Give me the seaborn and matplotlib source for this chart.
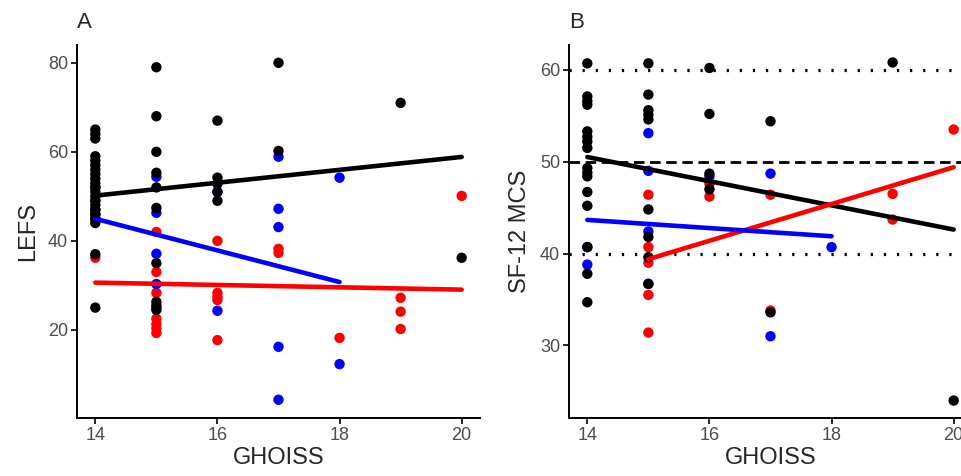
import pandas as pd
import matplotlib
matplotlib.use("Agg")
import matplotlib.pyplot as plt
import seaborn as sns

# Panel A: LEFS vs GHOISS
lefs_black_x = [14, 14, 14, 14, 14, 14, 14, 14, 14, 14, 14, 14, 14, 14, 14, 14, 14, 14, 14, 14, 14, 14, 14, 14,
                15, 15, 15, 15, 15, 15, 15, 15, 15, 15,
                16, 16, 16, 16, 16,
                17, 17,
                19,
                20]
lefs_black_y = [65, 64, 63, 59, 58, 57, 56, 55, 54, 53, 52, 51, 50, 49, 48, 47, 47, 46, 46, 45, 45, 44, 37, 25,
                79, 68, 60, 55.3, 52, 47.4, 35, 26.3, 25.5, 24.5,
                67, 54.2, 52.8, 51, 49,
                80, 60.2,
                71,
                36.2]
lefs_red_x = [14, 14,
              15, 15, 15, 15, 15, 15, 15,
              16, 16, 16, 16, 16,
              17, 17,
              18,
              19, 19, 19,
              20]
lefs_red_y = [52, 36.2,
              42, 33, 28.3, 22.5, 21.3, 20.3, 19.3,
              40, 28.3, 27.4, 26.7, 17.7,
              38.2, 37.3,
              18.2,
              27.2, 24.1, 20.2,
              50.1]
lefs_blue_x = [14, 14,
               15, 15, 15, 15, 15,
               16, 16,
               17, 17, 17, 17, 17,
               18, 18]
lefs_blue_y = [52, 49,
               54.4, 46.3, 37.1, 30.3, 25,
               51, 24.3,
               58.9, 47.2, 43.1, 16.2, 4.3,
               54.2, 12.3]

# Panel B: SF-12 MCS vs GHOISS
mcs_black_x = [14, 14, 14, 14, 14, 14, 14, 14, 14, 14, 14, 14, 14, 14, 14, 14,
               15, 15, 15, 15, 15, 15, 15, 15, 15,
               16, 16, 16, 16,
               17, 17,
               19,
               20]
mcs_black_y = [60.7, 57.1, 56.6, 56.2, 53.3, 52.7, 52.2, 51.5, 49.3, 48.8, 48.4, 46.7, 45.2, 40.7, 37.8, 34.7,
               60.7, 57.3, 55.6, 55.1, 54.6, 44.8, 41.8, 39.6, 36.7,
               60.2, 55.2, 48.7, 47.0,
               54.4, 33.6,
               60.8,
               24]
mcs_red_x = [15, 15, 15, 15, 15,
             16, 16,
             17, 17,
             19, 19,
             20]
mcs_red_y = [46.4, 40.7, 39.0, 35.5, 31.4,
             47.6, 46.2,
             46.4, 33.8,
             46.5, 43.7,
             53.5]
mcs_blue_x = [14, 14,
              15, 15, 15, 15,
              16,
              17, 17,
              18]
mcs_blue_y = [38.8, 40.7,
              53.1, 49.0, 42.4, 36.7,
              48.4,
              48.7, 31.0,
              40.7]

x_ticks = [14, 16, 18, 20]
lefs_ticks = [20, 40, 60, 80]
mcs_ticks = [30, 40, 50, 60]
mcs_refs = [60, 50, 40]

colors = {"red": "#FF0000", "blue": "#0000FF", "black": "#000000"}


def make_frame(red, blue, black):
    parts = []
    for name, (xs, ys) in [("red", red), ("blue", blue), ("black", black)]:
        parts.append(pd.DataFrame({"GHOISS": xs, "score": ys, "group": name}))
    return pd.concat(parts, ignore_index=True)


df_a = make_frame((lefs_red_x, lefs_red_y), (lefs_blue_x, lefs_blue_y), (lefs_black_x, lefs_black_y))
df_b = make_frame((mcs_red_x, mcs_red_y), (mcs_blue_x, mcs_blue_y), (mcs_black_x, mcs_black_y))

sns.set_theme(style="ticks")
plt.rcParams["font.family"] = ["Liberation Sans", "DejaVu Sans"]

fig = plt.figure(figsize=(9.61, 4.76), dpi=100)
ax_a = fig.add_axes([77 / 961, 58 / 476, 403 / 961, 373 / 476])
ax_b = fig.add_axes([569 / 961, 58 / 476, 403 / 961, 373 / 476])

# reference lines in panel B
for v in mcs_refs:
    if v == 50:
        ax_b.axhline(v, color="black", lw=2.0, ls=(0, (3.8, 2.0)), zorder=1)
    else:
        ax_b.axhline(v, color="black", lw=2.3, ls=(0, (0.7, 3.4)), zorder=1)

for ax, df, ylab, yticks, ylim, title in [
    (ax_a, df_a, "LEFS", lefs_ticks, (0.2, 84.0), "A"),
    (ax_b, df_b, "SF-12 MCS", mcs_ticks, (22.1, 62.7), "B"),
]:
    sns.scatterplot(data=df, x="GHOISS", y="score", hue="group", palette=colors,
                    s=56, edgecolor="none", linewidth=0, legend=False, ax=ax, zorder=2)
    for g in ["black", "red", "blue"]:
        sub = df[df["group"] == g]
        sns.regplot(data=sub, x="GHOISS", y="score", scatter=False, ci=None,
                    truncate=True, color=colors[g], line_kws={"lw": 3.3, "zorder": 3}, ax=ax)
    ax.set_xlim(13.7, 20.3)
    ax.set_ylim(*ylim)
    ax.set_xticks(x_ticks)
    ax.set_yticks(yticks)
    ax.set_xlabel("GHOISS", fontsize=17, labelpad=2)
    ax.set_ylabel(ylab, fontsize=17, labelpad=6)
    ax.set_title(title, loc="left", fontsize=16, pad=12)
    ax.tick_params(direction="out", length=4, width=1.2, labelsize=13,
                   labelcolor="#4D4D4D", color="black", pad=2.5)
    sns.despine(ax=ax)
    for sp in ["left", "bottom"]:
        ax.spines[sp].set_linewidth(1.4)
        ax.spines[sp].set_color("black")

fig.savefig("out.png", dpi=100)
